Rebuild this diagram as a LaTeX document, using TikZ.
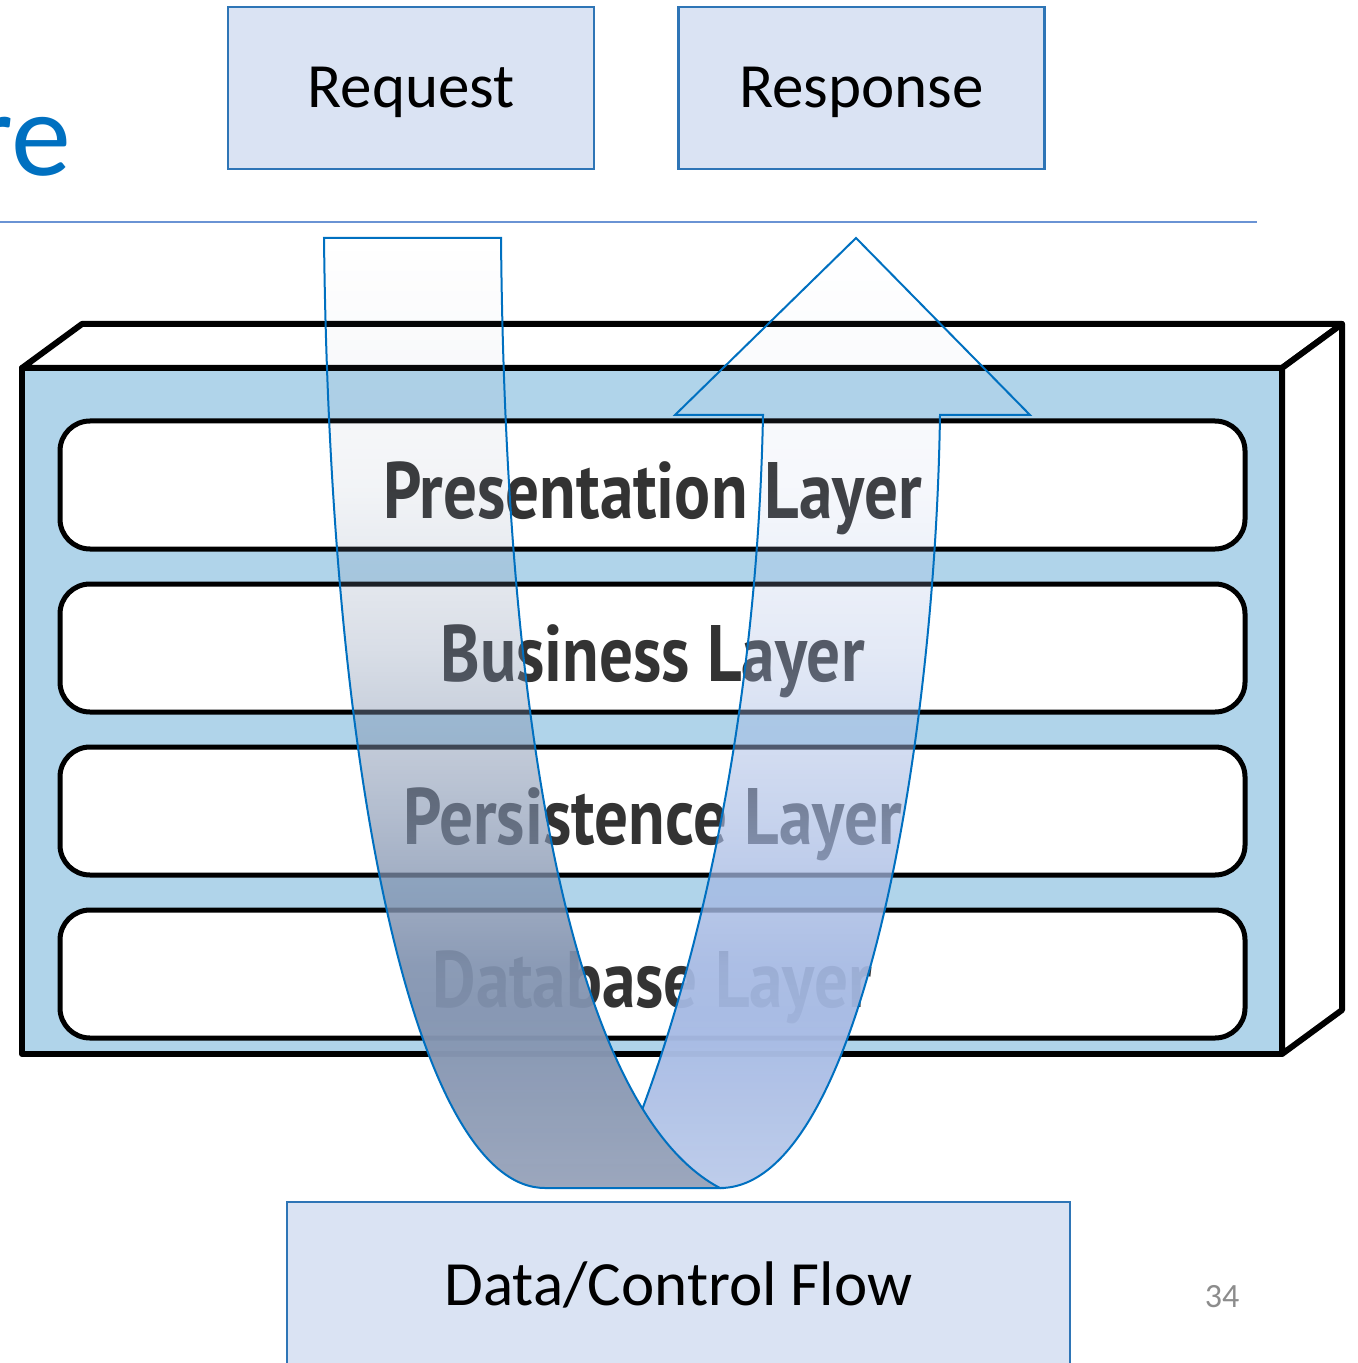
\documentclass[tikz,border=0pt]{standalone}
\usepackage{fontspec}
\setmainfont{Carlito}
\newfontfamily\layerfont[FakeStretch=0.84]{PT Sans}
\usetikzlibrary{positioning}
\usetikzlibrary{fadings}

\definecolor{slideblue}{HTML}{0070C0}
\definecolor{boxfill}{HTML}{DAE3F3}
\definecolor{boxline}{HTML}{2E75B6}
\definecolor{blockblue}{HTML}{B0D4EA}
\definecolor{rulecol}{HTML}{6A93D4}
\definecolor{reqdark}{HTML}{8293B0}
\definecolor{reqlight}{HTML}{9CA7BD}
\definecolor{resdark}{HTML}{A5B9E3}
\definecolor{reslight}{HTML}{BECDEB}
\definecolor{pagegray}{HTML}{8C8C8C}

% opacity of the flow arrow: clear at the top, solid at the bottom
% (the path's box takes the middle half of the fading picture)
\pgfdeclareverticalshading{fadeshade}{100bp}{color(0bp)=(pgftransparent!0);
  color(37.5bp)=(pgftransparent!0); color(41.1bp)=(pgftransparent!3);
  color(43.4bp)=(pgftransparent!8); color(47.5bp)=(pgftransparent!40);
  color(51.7bp)=(pgftransparent!70); color(55.9bp)=(pgftransparent!90);
  color(62.5bp)=(pgftransparent!100); color(100bp)=(pgftransparent!100)}
\begin{tikzfadingfrompicture}[name=flowfade]
  \shade[shading=fadeshade] (-50bp,-50bp) rectangle (50bp,50bp);
\end{tikzfadingfrompicture}
\pgfdeclareverticalshading{reqshade}{100bp}{color(0bp)=(reqlight); color(25bp)=(reqlight); color(34bp)=(reqdark); color(100bp)=(reqdark)}
\pgfdeclareverticalshading{resshade}{100bp}{color(0bp)=(reslight); color(25bp)=(reslight); color(34bp)=(resdark); color(100bp)=(resdark)}

\begin{document}
\begin{tikzpicture}[x=0.5pt, y=-0.5pt,
  slidebox/.style={draw=boxline, line width=1.2pt, fill=boxfill, inner sep=0pt,
    minimum width=183pt, minimum height=81pt,
    font=\fontsize{31.5}{37}\selectfont, text height=20pt, text depth=0pt},
  layerbox/.style={draw=black, line width=2.5pt, fill=white, rounded corners=15pt,
    inner sep=0pt, minimum width=592.5pt, minimum height=64pt,
    font=\layerfont\bfseries\fontsize{40}{48}\selectfont, text=black!80,
    text height=33pt, text depth=0pt},
  blockline/.style={draw=black, line width=3pt, line join=round},
  flowline/.style={draw=slideblue, line width=1pt}]
\useasboundingbox (0,0) rectangle (1357,1363);

% Slide title fragment and rule
\node[anchor=base west, text=slideblue, inner sep=0pt,
  font=\fontsize{60}{72}\selectfont] (title) at (-29,176) {re};
\draw[rulecol, line width=0.8pt] (0,222) -- (1257,222);

% Request / Response boxes
\node[slidebox] (request) at (411,88) {Request};
\node[slidebox] (response) at (861.5,88) {Response};

% Layered block (front, top and side faces)
\filldraw[blockline, fill=white] (22,368) -- (82,324) -- (1342,324) -- (1282,368) -- cycle;
\filldraw[blockline, fill=white] (1282,368) -- (1342,324) -- (1342,1010) -- (1282,1054) -- cycle;
\filldraw[blockline, fill=blockblue] (22,368) rectangle (1282,1054);

% Layers
\node[layerbox] (pres) at (652.5,485) {Presentation Layer};
\node[layerbox, below=15pt of pres] (bus) {Business Layer};
\node[layerbox, below=15pt of bus] (pers) {Persistence Layer};
\node[layerbox, below=15pt of pers] (db) {Database Layer};

% Flow arrow: response side (clipped by the request side)
\coordinate (reqTL) at (324,238);
\coordinate (reqTR) at (501,238);
\coordinate (reqB) at (545,1188);
\coordinate (turnB) at (720,1188);
\coordinate (resR) at (940,415);
\coordinate (resL) at (763,415);
\coordinate (tip) at (856,238);
\begin{scope}
  \clip (turnB) .. controls (590,1120) and (506,800) .. (reqTR)
    -- (501,0) -- (1357,0) -- (1357,1363) -- (720,1363) -- cycle;
  \draw[flowline, preaction={shade, shading=resshade, path fading=flowfade}]
    (turnB) .. controls (860,1188) and (935,750) .. (resR)
    -- (1030,415) -- (tip) -- (675,415) -- (resL)
    .. controls (757,720) and (695,1000) .. (610,1188) -- cycle;
\end{scope}

% Flow arrow: request side
\draw[flowline, preaction={shade, shading=reqshade, path fading=flowfade}]
  (reqTL) .. controls (330,800) and (420,1188) .. (reqB) -- (turnB)
  .. controls (590,1120) and (506,800) .. (reqTR) -- cycle;

% Bottom box and page number
\node[slidebox, minimum width=391.5pt, minimum height=83pt] (flow) at (678.5,1285) {Data/Control Flow};
\node[text=pagegray, font=\fontsize{17}{20}\selectfont] (page) at (1222,1297) {34};
\end{tikzpicture}
\end{document}
